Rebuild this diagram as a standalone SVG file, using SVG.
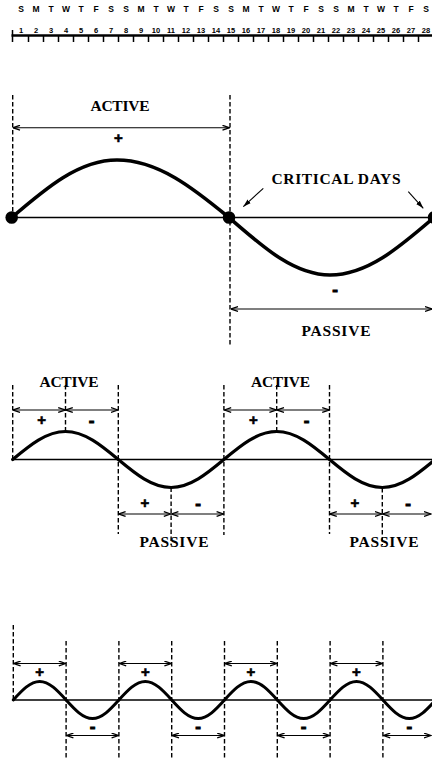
<svg xmlns="http://www.w3.org/2000/svg" width="432" height="775" viewBox="0 0 432 775">
<defs>
<style>
.lbl{font-family:"Liberation Serif","DejaVu Serif",serif;font-weight:bold;font-size:15.5px;text-anchor:middle;fill:#000}
.sg{font-family:"Liberation Sans",Arial,sans-serif;font-weight:bold;font-size:15px;text-anchor:middle;fill:#000;stroke:#000;stroke-width:0.6}
.mn{font-family:"Liberation Sans",Arial,sans-serif;font-weight:bold;font-size:17px;text-anchor:middle;fill:#000;stroke:#000;stroke-width:0.9}
.dy{font-family:"Liberation Sans",Arial,sans-serif;font-weight:bold;font-size:8.5px;text-anchor:middle;fill:#000}
.nm{font-family:"Liberation Sans",Arial,sans-serif;font-weight:bold;font-size:7.5px;text-anchor:middle;fill:#000}
.dash{stroke:#000;stroke-width:1.4;stroke-dasharray:4.5 2.5;fill:none}
.base{stroke:#000;stroke-width:1.3;fill:none}
.wave{stroke:#000;fill:none;stroke-linecap:round}
.arr{stroke:#000;stroke-width:1.1;fill:none;marker-start:url(#ah);marker-end:url(#ah)}
.cd{stroke:#000;stroke-width:1.1;fill:none;marker-end:url(#ahf)}
</style>
<marker id="ah" viewBox="0 0 8 6" refX="7.5" refY="3" markerWidth="8" markerHeight="6" markerUnits="userSpaceOnUse" orient="auto-start-reverse">
<path d="M0.5,0.6 L7.5,3 L0.5,5.4" fill="none" stroke="#000" stroke-width="1.3"/>
</marker>
<marker id="ahf" viewBox="0 0 8 6" refX="8" refY="3" markerWidth="8" markerHeight="6" markerUnits="userSpaceOnUse" orient="auto">
<path d="M0,0.5 L8,3 L0,5.5 Z" fill="#000"/>
</marker>
</defs>
<rect width="432" height="775" fill="#fff"/>

<g id="ruler">
<text class="dy" x="21 36 51 66 81 96 111 126 141 156 171 186 201 216 231 246 261 276 291 306 321 336 351 366 381 396 411 426" y="12">SMTWTFSSMTWTFSSMTWTFSSMTWTFS</text>
<g class="nm">
<text x="21" y="33">1</text><text x="36" y="33">2</text><text x="51" y="33">3</text><text x="66" y="33">4</text><text x="81" y="33">5</text><text x="96" y="33">6</text><text x="111" y="33">7</text><text x="126" y="33">8</text><text x="141" y="33">9</text><text x="156" y="33">10</text><text x="171" y="33">11</text><text x="186" y="33">12</text><text x="201" y="33">13</text><text x="216" y="33">14</text><text x="231" y="33">15</text><text x="246" y="33">16</text><text x="261" y="33">17</text><text x="276" y="33">18</text><text x="291" y="33">19</text><text x="306" y="33">20</text><text x="321" y="33">21</text><text x="336" y="33">22</text><text x="351" y="33">23</text><text x="366" y="33">24</text><text x="381" y="33">25</text><text x="396" y="33">26</text><text x="411" y="33">27</text><text x="426" y="33">28</text>
</g>
<line x1="11.5" y1="35.5" x2="432" y2="35.5" stroke="#000" stroke-width="2.6"/>
<path stroke="#000" stroke-width="1.5" d="M12.5,30 V42 M28.5,35 V42 M43.5,35 V42 M58.5,35 V42 M73.5,35 V42 M88.5,35 V42 M103.5,35 V42 M118.5,35 V42 M133.5,35 V42 M148.5,35 V42 M163.5,35 V42 M178.5,35 V42 M193.5,35 V42 M208.5,35 V42 M223.5,35 V42 M238.5,35 V42 M253.5,35 V42 M268.5,35 V42 M283.5,35 V42 M298.5,35 V42 M313.5,35 V42 M328.5,35 V42 M343.5,35 V42 M358.5,35 V42 M373.5,35 V42 M388.5,35 V42 M403.5,35 V42 M418.5,35 V42"/>
</g>

<g id="cycle1">
<line class="base" x1="11.7" y1="217.5" x2="432" y2="217.5"/>
<path class="wave" stroke-width="3.6" d="M11.7,217.5 C46,188 78.9,160 117,160 C157.9,160 193.2,188 229,217.5 C262.6,246.7 293.8,275 330,275 C367.6,275 400.1,246.7 434,217.5"/>
<circle cx="11.7" cy="217.5" r="6.3"/>
<circle cx="229" cy="217.5" r="6.3"/>
<circle cx="434" cy="217.5" r="6.3"/>
<text class="lbl" x="120" y="110.5" textLength="59">ACTIVE</text>
<text class="sg" x="118.3" y="142.5">+</text>
<text class="lbl" x="336" y="184" textLength="129">CRITICAL DAYS</text>
<text class="mn" x="335" y="295">-</text>
<text class="lbl" x="336" y="336" textLength="69">PASSIVE</text>
</g>

<g id="cycle2">
<line class="base" x1="12.7" y1="459.5" x2="432" y2="459.5"/>
<path class="wave" stroke-width="3.2" d="M12.7,459.5 C29.92,445.16 46.39,431.5 65.5,431.5 C84.61,431.5 101.08,445.16 118.3,459.5 C135.52,473.84 151.99,487.5 171.1,487.5 C190.21,487.5 206.68,473.84 223.9,459.5 C241.12,445.16 257.59,431.5 276.7,431.5 C295.81,431.5 312.28,445.16 329.5,459.5 C346.72,473.84 363.19,487.5 382.3,487.5 C401.41,487.5 417.88,473.84 435.1,459.5"/>
<text class="lbl" x="69" y="386.5" textLength="59">ACTIVE</text>
<text class="lbl" x="280.5" y="386.5" textLength="59">ACTIVE</text>
<text class="sg" x="41.7" y="425">+</text>
<text class="mn" x="91.7" y="425.5">-</text>
<text class="sg" x="253.3" y="425">+</text>
<text class="mn" x="306.7" y="425.5">-</text>
<text class="sg" x="145" y="508">+</text>
<text class="mn" x="198" y="508.5">-</text>
<text class="sg" x="355" y="508">+</text>
<text class="mn" x="408" y="508.5">-</text>
<text class="lbl" x="174" y="547" textLength="69">PASSIVE</text>
<text class="lbl" x="384" y="547" textLength="69">PASSIVE</text>
</g>

<g id="cycle3">
<line class="base" x1="13.3" y1="700" x2="432" y2="700"/>
<path class="wave" stroke-width="3" d="M13.3,700 C21.91,690.52 30.15,681.5 39.7,681.5 C49.25,681.5 57.49,690.52 66.1,700 C74.71,709.48 82.95,718.5 92.5,718.5 C102.05,718.5 110.29,709.48 118.9,700 C127.51,690.52 135.75,681.5 145.3,681.5 C154.85,681.5 163.09,690.52 171.7,700 C180.31,709.48 188.55,718.5 198.1,718.5 C207.65,718.5 215.89,709.48 224.5,700 C233.11,690.52 241.35,681.5 250.9,681.5 C260.45,681.5 268.69,690.52 277.3,700 C285.91,709.48 294.15,718.5 303.7,718.5 C313.25,718.5 321.49,709.48 330.1,700 C338.71,690.52 346.95,681.5 356.5,681.5 C366.05,681.5 374.29,690.52 382.9,700 C391.51,709.48 399.75,718.5 409.3,718.5 C418.85,718.5 427.09,709.48 435.7,700"/>
<text class="sg" x="39.7" y="677">+</text>
<text class="sg" x="145.3" y="677">+</text>
<text class="sg" x="250.9" y="677">+</text>
<text class="sg" x="356.5" y="677">+</text>
<text class="mn" x="92.5" y="731.5">-</text>
<text class="mn" x="198.1" y="731.5">-</text>
<text class="mn" x="303.7" y="731.5">-</text>
<text class="mn" x="409.3" y="731.5">-</text>
</g>

<g id="connectors">
<path class="dash" d="M12.7,95 V217 M230,95 V345"/>
<line class="arr" x1="13" y1="127.7" x2="229.5" y2="127.7"/>
<line class="arr" x1="231" y1="309" x2="432" y2="309"/>
<line class="cd" x1="263.3" y1="188.3" x2="243.3" y2="206.7"/>
<line class="cd" x1="408.3" y1="191.7" x2="423.3" y2="208.3"/>

<path class="dash" d="M12.7,385 V459.5 M65.5,385 V431.5 M118.3,385 V534 M171.1,487.5 V545 M223.9,385 V535 M276.7,385 V431.5 M329.5,385 V534 M382.3,488 V545"/>
<line class="arr" x1="13" y1="410" x2="65.2" y2="410"/>
<line class="arr" x1="65.8" y1="410" x2="118" y2="410"/>
<line class="arr" x1="224.2" y1="410" x2="276.4" y2="410"/>
<line class="arr" x1="277" y1="410" x2="329.2" y2="410"/>
<line class="arr" x1="118.6" y1="514" x2="170.8" y2="514"/>
<line class="arr" x1="171.4" y1="514" x2="223.6" y2="514"/>
<line class="arr" x1="329.8" y1="514" x2="382" y2="514"/>
<line class="arr" x1="382.6" y1="514" x2="431" y2="514"/>

<path class="dash" d="M13.3,625 V700 M66.1,641 V760 M118.9,641 V760 M171.7,641 V760 M224.5,641 V760 M277.3,641 V760 M330.1,641 V760 M382.9,641 V760"/>
<line class="arr" x1="13.6" y1="663.5" x2="65.8" y2="663.5"/>
<line class="arr" x1="119.2" y1="663.5" x2="171.4" y2="663.5"/>
<line class="arr" x1="224.8" y1="663.5" x2="277" y2="663.5"/>
<line class="arr" x1="330.4" y1="663.5" x2="382.6" y2="663.5"/>
<line class="arr" x1="66.4" y1="735.5" x2="118.6" y2="735.5"/>
<line class="arr" x1="172" y1="735.5" x2="224.2" y2="735.5"/>
<line class="arr" x1="277.6" y1="735.5" x2="329.8" y2="735.5"/>
<line class="arr" x1="383.2" y1="735.5" x2="431" y2="735.5"/>
</g>
</svg>
